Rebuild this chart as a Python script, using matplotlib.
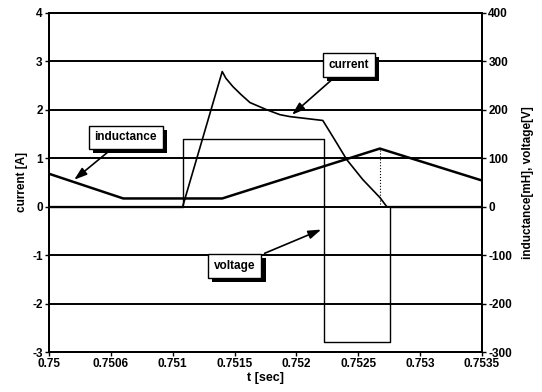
#!/usr/bin/env python
# -*- coding: UTF-8 -*-

import matplotlib
matplotlib.use('Agg')
import matplotlib.pyplot as plt
import matplotlib.patheffects as pe

plt.rcParams['font.family'] = ['Liberation Sans', 'DejaVu Sans']
plt.rcParams['font.weight'] = 'bold'
plt.rcParams['axes.unicode_minus'] = False

# current [A]
cur_t = [0.75, 0.75108, 0.75140, 0.75143, 0.751486, 0.75155, 0.751624, 0.751761,
         0.751866, 0.751947, 0.752213, 0.75230, 0.752407, 0.752536, 0.752674, 0.75273, 0.7535]
cur_v = [0, 0, 2.79, 2.65, 2.48, 2.32, 2.15, 2.0,
         1.9, 1.86, 1.78, 1.42, 0.97, 0.56, 0.19, 0, 0]

# inductance [mH]
ind_t = [0.75, 0.75060, 0.75140, 0.752674, 0.7535]
ind_v = [68, 17, 17, 120, 54]

# voltage [V]
vol_t = [0.75, 0.75108, 0.75108, 0.752221, 0.752221, 0.752754, 0.752754, 0.7535]
vol_v = [0, 0, 140, 140, -280, -280, 0, 0]

xticks = [0.75, 0.7505, 0.751, 0.7515, 0.752, 0.7525, 0.753, 0.7535]
xlabels = ['0.75', '0.7506', '0.751', '0.7515', '0.752', '0.7525', '0.753', '0.7535']
yticks_l = [-3, -2, -1, 0, 1, 2, 3, 4]
yticks_r = [-300, -200, -100, 0, 100, 200, 300, 400]


def label_box(ax, text, xy, xytext):
    ann = ax.annotate(text, xy=xy, xytext=xytext, textcoords='data',
                      fontsize=8.5, fontweight='bold', ha='center', va='center',
                      bbox=dict(boxstyle='square,pad=0.5', fc='white', ec='black', lw=1),
                      arrowprops=dict(arrowstyle='-|>,head_length=0.9,head_width=0.3',
                                      fc='black', ec='black', lw=1.2), zorder=10)
    ann.get_bbox_patch().set_path_effects([
        pe.withSimplePatchShadow(offset=(3, -3), shadow_rgbFace='black', alpha=1)])
    return ann


def main():
    fig = plt.figure(figsize=(5.42, 3.92), dpi=100)
    ax = fig.add_axes([0.0904, 0.102, 0.799, 0.865])
    ax2 = ax.twinx()

    ax.set_xlim(0.75, 0.7535)
    ax.set_ylim(-3, 4)
    ax2.set_ylim(-300, 400)

    for y in yticks_l[1:-1]:
        ax.axhline(y, color='black', lw=1.4, zorder=1)

    ax.plot(cur_t, cur_v, color='black', lw=1.2, zorder=3)
    ax2.plot(ind_t, ind_v, color='black', lw=1.8, zorder=3)
    ax2.plot(vol_t, vol_v, color='black', lw=1.0, zorder=3)
    ax2.plot([ind_t[3], ind_t[3]], [0, ind_v[3]], color='black', lw=0.8, ls=':', zorder=3)

    ax.set_xticks(xticks)
    ax.set_xticklabels(xlabels)
    ax.set_yticks(yticks_l)
    ax2.set_yticks(yticks_r)
    for a in (ax, ax2):
        a.tick_params(labelsize=8.5, length=3, width=1, direction='out', pad=1.5)
        for s in a.spines.values():
            s.set_linewidth(1.4)
    for lab in ax.get_xticklabels() + ax.get_yticklabels() + ax2.get_yticklabels():
        lab.set_fontweight('bold')

    ax.set_xlabel('t [sec]', fontsize=9, fontweight='bold', labelpad=1)
    ax.set_ylabel('current [A]', fontsize=8.5, fontweight='bold', labelpad=3)
    ax2.set_ylabel('inductance[mH], voltage[V]', fontsize=8.5, fontweight='bold', labelpad=7)

    ax2.set_zorder(ax.get_zorder() + 1)
    ax2.patch.set_visible(False)

    label_box(ax, 'inductance', (0.750186, 0.52), (0.75062, 1.43))
    label_box(ax, 'current', (0.751947, 1.86), (0.752423, 2.93))
    label_box(ax, 'voltage', (0.752221, -0.45), (0.751502, -1.22))

    fig.savefig('out.png', dpi=100)


if __name__ == '__main__':
    main()
